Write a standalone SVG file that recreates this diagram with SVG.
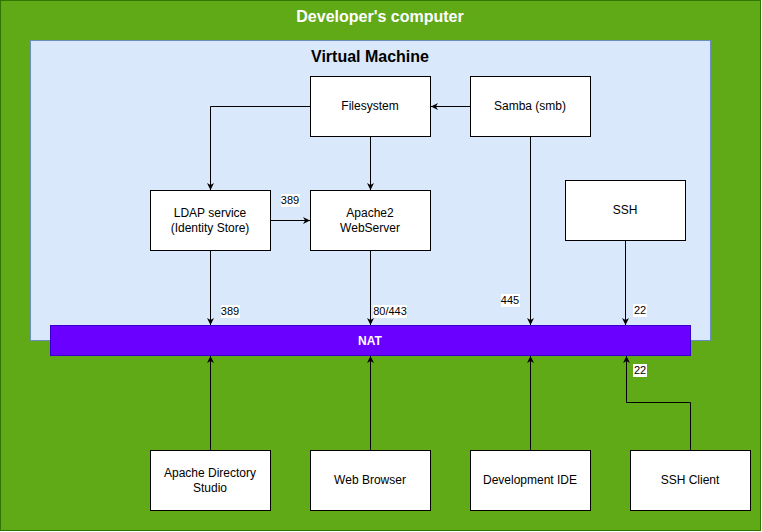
<svg xmlns="http://www.w3.org/2000/svg" width="762" height="532" viewBox="0 0 762 532">
<style>
.node{fill:#ffffff;stroke:#000000;stroke-width:1}
.nt{font-family:"Liberation Sans",Arial,sans-serif;font-size:12px;fill:#000000;text-anchor:middle}
.edge{fill:none;stroke:#000000;stroke-width:1}
.lbl{font-family:"Liberation Sans",Arial,sans-serif;font-size:11px;fill:#000000;text-anchor:middle}
.lblbg{fill:#ffffff}
</style>
<defs>
<marker id="arr" viewBox="0 0 10 10" refX="10" refY="5" markerWidth="7" markerHeight="7" markerUnits="userSpaceOnUse" orient="auto">
<path d="M0,0 L10,5 L0,10 L3,5 Z" fill="#000000"/>
</marker>
</defs>
<g id="computer">
<rect x="0.5" y="0.5" width="760" height="530" fill="#60a917" stroke="#2d7600"/>
<text x="380" y="22" font-family="'Liberation Sans',Arial,sans-serif" font-size="16" font-weight="bold" fill="#ffffff" text-anchor="middle">Developer's computer</text>
</g>
<g id="vm">
<rect x="30.5" y="40.5" width="680" height="300" fill="#dae8fc" stroke="#6c8ebf"/>
<text x="370" y="62" font-family="'Liberation Sans',Arial,sans-serif" font-size="16" font-weight="bold" fill="#000000" text-anchor="middle">Virtual Machine</text>
</g>
<g id="nat">
<rect x="50.5" y="325.5" width="640" height="30" fill="#6a00ff" stroke="#3700cc"/>
<text x="370" y="345" font-family="'Liberation Sans',Arial,sans-serif" font-size="12" font-weight="bold" fill="#ffffff" text-anchor="middle">NAT</text>
</g>
<g id="filesystem"><rect class="node" x="310.5" y="76.5" width="120" height="60"/><text class="nt" x="370" y="110">Filesystem</text></g>
<g id="samba"><rect class="node" x="470.5" y="76.5" width="120" height="60"/><text class="nt" x="530" y="110">Samba (smb)</text></g>
<g id="ldap"><rect class="node" x="150.5" y="190.5" width="120" height="60"/><text class="nt" x="210" y="217">LDAP service</text><text class="nt" x="210" y="232">(Identity Store)</text></g>
<g id="apache2"><rect class="node" x="310.5" y="190.5" width="120" height="60"/><text class="nt" x="370" y="217">Apache2</text><text class="nt" x="370" y="232">WebServer</text></g>
<g id="ssh"><rect class="node" x="565.5" y="180.5" width="120" height="60"/><text class="nt" x="625" y="214">SSH</text></g>
<g id="ads"><rect class="node" x="150.5" y="450.5" width="120" height="60"/><text class="nt" x="210" y="477">Apache Directory</text><text class="nt" x="210" y="492">Studio</text></g>
<g id="browser"><rect class="node" x="310.5" y="450.5" width="120" height="60"/><text class="nt" x="370" y="484">Web Browser</text></g>
<g id="ide"><rect class="node" x="470.5" y="450.5" width="120" height="60"/><text class="nt" x="530" y="484">Development IDE</text></g>
<g id="sshclient"><rect class="node" x="630.5" y="450.5" width="120" height="60"/><text class="nt" x="690" y="484">SSH Client</text></g>
<g id="connectors">
<path class="edge" d="M470.5,106.5 L431,106.5" marker-end="url(#arr)"/>
<path class="edge" d="M310.5,106.5 L210.5,106.5 L210.5,190" marker-end="url(#arr)"/>
<path class="edge" d="M370.5,136.5 L370.5,190" marker-end="url(#arr)"/>
<path class="edge" d="M270.5,220.5 L310,220.5" marker-end="url(#arr)"/>
<path class="edge" d="M210.5,250.5 L210.5,325" marker-end="url(#arr)"/>
<path class="edge" d="M370.5,250.5 L370.5,325" marker-end="url(#arr)"/>
<path class="edge" d="M530.5,136.5 L530.5,325" marker-end="url(#arr)"/>
<path class="edge" d="M625.5,240.5 L625.5,325" marker-end="url(#arr)"/>
<path class="edge" d="M210.5,450.5 L210.5,356" marker-end="url(#arr)"/>
<path class="edge" d="M370.5,450.5 L370.5,356" marker-end="url(#arr)"/>
<path class="edge" d="M530.5,450.5 L530.5,356" marker-end="url(#arr)"/>
<path class="edge" d="M690.5,450.5 L690.5,402.5 L626.5,402.5 L626.5,356" marker-end="url(#arr)"/>
<rect class="lblbg" x="281" y="194" width="19" height="13"/><text class="lbl" x="290" y="204">389</text>
<rect class="lblbg" x="221" y="305" width="19" height="13"/><text class="lbl" x="230" y="315">389</text>
<rect class="lblbg" x="373" y="305" width="34" height="13"/><text class="lbl" x="390" y="315">80/443</text>
<rect class="lblbg" x="501" y="294" width="19" height="13"/><text class="lbl" x="510" y="304">445</text>
<rect class="lblbg" x="633" y="304" width="14" height="13"/><text class="lbl" x="640" y="314">22</text>
<rect class="lblbg" x="633" y="364" width="14" height="13"/><text class="lbl" x="640" y="374">22</text>
</g>
</svg>
